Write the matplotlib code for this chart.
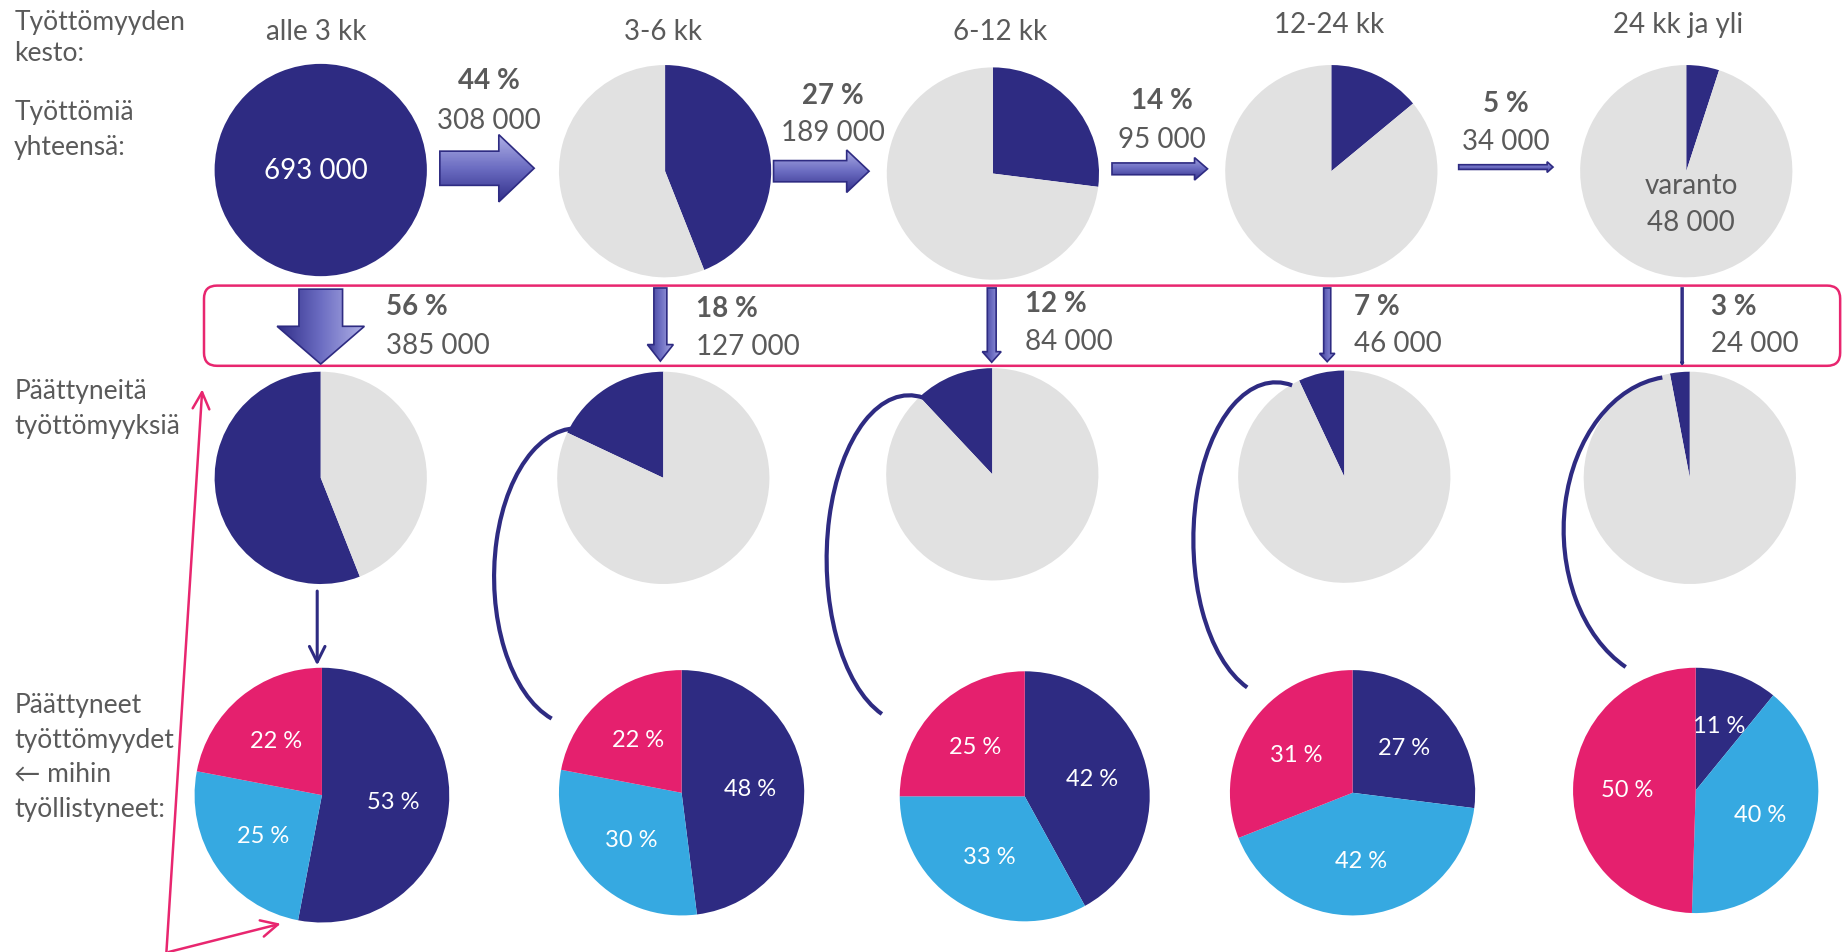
import numpy as np
import matplotlib
matplotlib.use('Agg')
import matplotlib.pyplot as plt
from matplotlib.patches import FancyArrow, FancyBboxPatch, Arc, Rectangle
from matplotlib.colors import LinearSegmentedColormap

plt.rcParams['font.family'] = ['Lato', 'DejaVu Sans']

# --- data ---
kestot = ['alle 3 kk', '3-6 kk', '6-12 kk', '12-24 kk', '24 kk ja yli']
tyottomia = 693000
siirtyy_pct = [44, 27, 14, 5]
siirtyy_lkm = [308000, 189000, 95000, 34000]
varanto = 48000
paattyy_pct = [56, 18, 12, 7, 3]
paattyy_lkm = [385000, 127000, 84000, 46000, 24000]
osuus_tumma = [53, 48, 42, 27, 11]
osuus_sininen = [25, 30, 33, 42, 40]
osuus_pinkki = [22, 22, 25, 31, 50]

NAVY = '#2E2B82'
GRAY = '#E1E1E1'
PINK = '#E5206E'
BLUE = '#36A9E1'
TXT = '#5A5A5A'

# layout in picture units (y down)
W, H = 1568, 808
def Y(y):
    return H - y

def fmt(n):
    return f'{n:,}'.replace(',', ' ')

head_xy = [(268, 27), (562, 27), (848, 27), (1127, 21), (1423, 21)]
row1 = [(272, 145), (564, 146), (842, 148), (1129, 146), (1430, 146)]
row2 = [(272, 406), (562.5, 406), (841.5, 403), (1140, 405), (1433, 406)]
row3 = [(273, 675, 108), (578, 673, 104), (869, 676, 106), (1147, 673, 104), (1438, 671, 104)]
R1 = 90
# horizontal arrows: x0, x1, y, shaft, head width, head length
h_arrows = [(373, 453, 143.5, 29, 57, 30), (656, 737, 146, 18, 36, 19),
            (943, 1024, 144, 10, 19, 11), (1237, 1317, 142.5, 4, 9, 5)]
h_labels = [(415, 69, 103), (706, 81, 113), (985, 86, 119), (1277, 88, 120)]
# vertical arrows: x, y0, y1, shaft, head width, head length
v_arrows = [(272, 246, 309.5, 37, 74, 32), (560, 245, 307, 11, 22, 14),
            (841, 245, 308, 7.5, 16, 9), (1125.5, 245, 307.5, 6, 13, 7),
            (1426.5, 245, 310, 1.5, 2.5, 2)]
v_labels = [(327, 260, 293), (590, 262, 294), (869, 258, 290), (1148, 260, 292), (1451, 260, 292)]
# connector arcs: cx, cy, half width, half height, start angle, end angle
curves = [(489, 490, 70, 126, 84, 260),
          (771, 475, 70, 139, 85, 260),
          (1082, 458.5, 70, 133.5, 84, 259),
          (1421, 450, 95, 130, 95, 250)]

fig = plt.figure(figsize=(18.49, 9.53), dpi=100)
ax = fig.add_axes([0, 0, 1, 1])

cm = LinearSegmentedColormap.from_list('arr', ['#2E2B86', '#6C6DC2', '#B3B4E8'])

def grad_arrow(x0, y0, x1, y1, width, hw, hl):
    arr = FancyArrow(x0, Y(y0), x1 - x0, -(y1 - y0), width=width, head_width=hw,
                     head_length=hl, length_includes_head=True, fc='none',
                     ec=NAVY, lw=1.2, zorder=4)
    ax.add_patch(arr)
    if y0 == y1:
        grad = np.linspace(0, 1, 100).reshape(-1, 1)
        ext = (x0 - 2, x1 + 2, Y(y0) - hw / 2 - 2, Y(y0) + hw / 2 + 2)
    else:
        grad = np.linspace(0, 1, 100).reshape(1, -1)
        ext = (x0 - hw / 2 - 2, x0 + hw / 2 + 2, Y(y1) - 2, Y(y0) + 2)
    im = ax.imshow(grad, cmap=cm, extent=ext, origin='lower', aspect='auto',
                   interpolation='bilinear', zorder=3)
    im.set_clip_path(arr)

# row 1: total unemployed and transitions to next duration
ax.pie([1], colors=[NAVY], center=(row1[0][0], Y(row1[0][1])), radius=R1, frame=True)
ax.text(row1[0][0] - 4, Y(row1[0][1]), fmt(tyottomia), color='white', fontsize=20,
        ha='center', va='center')
for i, p in enumerate(siirtyy_pct):
    cx, cy = row1[i + 1]
    ax.pie([p, 100 - p], colors=[NAVY, GRAY], startangle=90, counterclock=False,
           center=(cx, Y(cy)), radius=R1, frame=True)
ax.text(1434, Y(158), 'varanto', color=TXT, fontsize=20, ha='center', va='center')
ax.text(1434, Y(189), fmt(varanto), color=TXT, fontsize=20, ha='center', va='center')

for (x0, x1, y, w, hw, hl), (lx, ly1, ly2), p, n in zip(h_arrows, h_labels, siirtyy_pct, siirtyy_lkm):
    grad_arrow(x0, y, x1, y, w, hw, hl)
    ax.text(lx, Y(ly1), f'{p} %', color=TXT, fontsize=20, fontweight='bold', ha='center', va='center')
    ax.text(lx, Y(ly2), fmt(n), color=TXT, fontsize=20, ha='center', va='center')

for (hx, hy), k in zip(head_xy, kestot):
    ax.text(hx, Y(hy), k, color=TXT, fontsize=20, ha='center', va='center')

# pink box with ended unemployment flows
ax.add_patch(FancyBboxPatch((173, Y(311)), 1560.5 - 173, 311 - 243,
                            boxstyle='round,pad=0,rounding_size=11', fc='none',
                            ec='#E8266F', lw=1.8, zorder=2))
for (x, y0, y1, w, hw, hl), (lx, ly1, ly2), p, n in zip(v_arrows, v_labels, paattyy_pct, paattyy_lkm):
    grad_arrow(x, y0, x, y1, w, hw, hl)
    ax.text(lx, Y(ly1), f'{p} %', color=TXT, fontsize=20, fontweight='bold', ha='left', va='center')
    ax.text(lx, Y(ly2), fmt(n), color=TXT, fontsize=20, ha='left', va='center')

# row 2: share of ended unemployments
for (cx, cy), p in zip(row2, paattyy_pct):
    ax.pie([p, 100 - p], colors=[NAVY, GRAY], startangle=90, counterclock=True,
           center=(cx, Y(cy)), radius=R1, frame=True)

# row 3: where the employed went
for (cx, cy, r), a, b, c in zip(row3, osuus_tumma, osuus_sininen, osuus_pinkki):
    wedges, _ = ax.pie([a, b, c], colors=[NAVY, BLUE, PINK], startangle=90,
                       counterclock=False, center=(cx, Y(cy)), radius=r, frame=True)
    for wdg, v in zip(wedges, [a, b, c]):
        ang = np.deg2rad((wdg.theta1 + wdg.theta2) / 2)
        ax.text(cx + 0.56 * r * np.cos(ang), Y(cy) + 0.56 * r * np.sin(ang), f'{v} %',
                color='white', fontsize=17, ha='center', va='center')

# connectors
for cx, cy, a, b, t1, t2 in curves:
    ax.add_patch(Arc((cx, Y(cy)), 2 * a, 2 * b, theta1=t1, theta2=t2,
                     ec=NAVY, lw=3, zorder=5))
ax.annotate('', xy=(269, Y(565)), xytext=(269, Y(502)),
            arrowprops=dict(arrowstyle='->', color=NAVY, lw=2.2, mutation_scale=28,
                            shrinkA=0, shrinkB=0))
ax.annotate('', xy=(171.5, Y(331)), xytext=(141, Y(810)),
            arrowprops=dict(arrowstyle='->', color='#E8266F', lw=1.8, mutation_scale=30,
                            shrinkA=0, shrinkB=0))
ax.annotate('', xy=(238, Y(784)), xytext=(143, Y(808)),
            arrowprops=dict(arrowstyle='->', color='#E8266F', lw=1.8, mutation_scale=30,
                            shrinkA=0, shrinkB=0))

# left-side row labels
left_lines = [('Työttömyyden', 19), ('kesto:', 45), ('Työttömiä', 95), ('yhteensä:', 125),
              ('Päättyneitä', 332), ('työttömyyksiä', 362),
              ('Päättyneet', 598), ('työttömyydet', 628), ('\u2190 mihin', 657),
              ('työllistyneet:', 686)]
for s, y in left_lines:
    t = ax.text(12, Y(y), s, color=TXT, fontsize=19, ha='left', va='center')
    if s == 'työttömyyksiä':
        t.set_clip_path(Rectangle((0, 0), 149, H, transform=ax.transData))

ax.set_xlim(0, W)
ax.set_ylim(0, H)
ax.set_aspect('auto')
ax.axis('off')

fig.savefig('out.png', dpi=100, facecolor='white')
